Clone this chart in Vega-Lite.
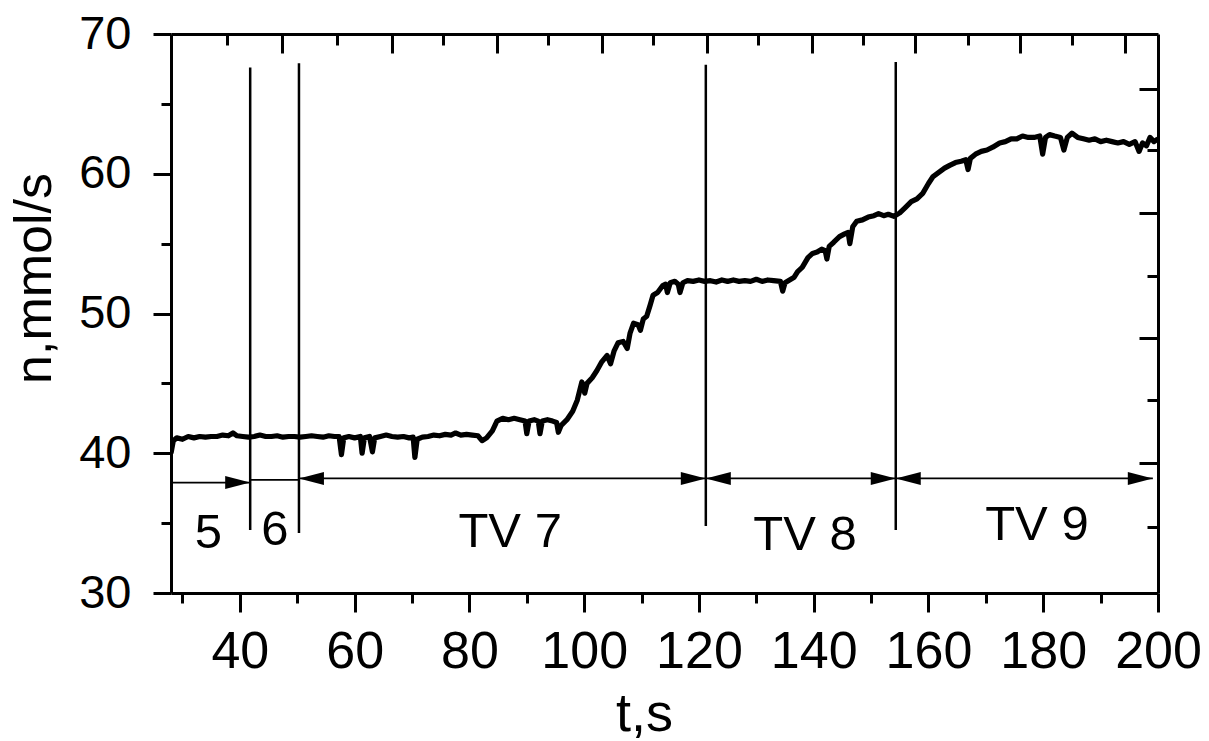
{
  "$schema": "https://vega.github.io/schema/vega-lite/v6.json",
  "width": 987,
  "height": 559,
  "autosize": {"type": "none"},
  "padding": {"left": 171, "top": 34, "right": 51, "bottom": 148},
  "background": "white",
  "config": {
    "view": {"stroke": null},
    "font": "Liberation Sans",
    "axis": {"grid": false, "domainColor": "black", "tickColor": "black", "labelColor": "black", "titleColor": "black", "domainWidth": 3, "tickWidth": 3, "titleFontWeight": "normal", "labelFont": "Liberation Sans", "titleFont": "Liberation Sans"}
  },
  "datasets": {
    "series": [
      {"t": 28.0, "n": 40.0}, {"t": 28.4, "n": 40.9}, {"t": 29.0, "n": 41.1}, {"t": 30.0, "n": 41.0},
      {"t": 31.0, "n": 41.2}, {"t": 32.0, "n": 41.1}, {"t": 33.0, "n": 41.2}, {"t": 34.0, "n": 41.15},
      {"t": 35.0, "n": 41.2}, {"t": 36.0, "n": 41.2}, {"t": 37.0, "n": 41.3}, {"t": 38.0, "n": 41.25},
      {"t": 38.8, "n": 41.45}, {"t": 39.5, "n": 41.25}, {"t": 40.5, "n": 41.2}, {"t": 41.5, "n": 41.15},
      {"t": 42.5, "n": 41.2}, {"t": 43.5, "n": 41.3}, {"t": 44.5, "n": 41.2}, {"t": 45.5, "n": 41.2},
      {"t": 46.5, "n": 41.25}, {"t": 47.5, "n": 41.15}, {"t": 48.5, "n": 41.2}, {"t": 49.5, "n": 41.2},
      {"t": 50.5, "n": 41.15}, {"t": 51.5, "n": 41.2}, {"t": 52.5, "n": 41.25}, {"t": 53.5, "n": 41.2},
      {"t": 54.5, "n": 41.15}, {"t": 55.5, "n": 41.25}, {"t": 56.5, "n": 41.2}, {"t": 57.3, "n": 41.2},
      {"t": 57.7, "n": 39.9}, {"t": 58.1, "n": 41.1}, {"t": 59.0, "n": 41.2}, {"t": 60.0, "n": 41.1},
      {"t": 61.0, "n": 41.2}, {"t": 61.3, "n": 40.0}, {"t": 61.7, "n": 41.1}, {"t": 62.6, "n": 41.2},
      {"t": 63.1, "n": 40.1}, {"t": 63.5, "n": 41.1}, {"t": 64.5, "n": 41.2}, {"t": 65.5, "n": 41.3},
      {"t": 66.5, "n": 41.2}, {"t": 67.5, "n": 41.15}, {"t": 68.5, "n": 41.2}, {"t": 69.5, "n": 41.1},
      {"t": 70.2, "n": 41.15}, {"t": 70.5, "n": 39.7}, {"t": 70.9, "n": 41.0}, {"t": 71.8, "n": 41.15},
      {"t": 72.8, "n": 41.2}, {"t": 73.8, "n": 41.3}, {"t": 74.8, "n": 41.25}, {"t": 75.8, "n": 41.35},
      {"t": 76.8, "n": 41.3}, {"t": 77.6, "n": 41.45}, {"t": 78.5, "n": 41.3}, {"t": 79.5, "n": 41.35},
      {"t": 80.5, "n": 41.3}, {"t": 81.5, "n": 41.25}, {"t": 82.2, "n": 40.9}, {"t": 83.0, "n": 41.1},
      {"t": 84.0, "n": 41.6}, {"t": 84.8, "n": 42.3}, {"t": 85.8, "n": 42.5}, {"t": 86.8, "n": 42.4},
      {"t": 87.8, "n": 42.5}, {"t": 88.8, "n": 42.4}, {"t": 89.7, "n": 42.3}, {"t": 90.0, "n": 41.4},
      {"t": 90.4, "n": 42.3}, {"t": 91.3, "n": 42.4}, {"t": 92.0, "n": 42.3}, {"t": 92.3, "n": 41.4},
      {"t": 92.7, "n": 42.3}, {"t": 93.6, "n": 42.4}, {"t": 94.5, "n": 42.3}, {"t": 95.2, "n": 42.2},
      {"t": 95.5, "n": 41.5}, {"t": 96.0, "n": 42.0}, {"t": 97.0, "n": 42.4}, {"t": 98.0, "n": 43.0},
      {"t": 98.8, "n": 43.8}, {"t": 99.6, "n": 45.1}, {"t": 100.1, "n": 44.3}, {"t": 100.5, "n": 45.0},
      {"t": 101.4, "n": 45.4}, {"t": 102.2, "n": 45.9}, {"t": 103.0, "n": 46.5}, {"t": 104.0, "n": 47.0},
      {"t": 104.6, "n": 46.4}, {"t": 105.2, "n": 47.3}, {"t": 105.9, "n": 47.9}, {"t": 106.8, "n": 48.0},
      {"t": 107.5, "n": 47.5}, {"t": 108.0, "n": 48.6}, {"t": 108.6, "n": 49.3}, {"t": 109.4, "n": 49.2},
      {"t": 109.8, "n": 48.8}, {"t": 110.3, "n": 49.6}, {"t": 110.9, "n": 49.8}, {"t": 111.5, "n": 50.6},
      {"t": 112.0, "n": 51.3}, {"t": 112.8, "n": 51.5}, {"t": 113.7, "n": 52.0}, {"t": 114.2, "n": 52.1},
      {"t": 114.5, "n": 51.5}, {"t": 115.0, "n": 52.2}, {"t": 115.8, "n": 52.3}, {"t": 116.4, "n": 52.1},
      {"t": 116.7, "n": 51.5}, {"t": 117.2, "n": 52.2}, {"t": 118.0, "n": 52.35}, {"t": 119.0, "n": 52.3},
      {"t": 120.0, "n": 52.4}, {"t": 121.0, "n": 52.3}, {"t": 122.0, "n": 52.35}, {"t": 123.0, "n": 52.25},
      {"t": 124.0, "n": 52.4}, {"t": 125.0, "n": 52.3}, {"t": 126.0, "n": 52.4}, {"t": 127.0, "n": 52.3},
      {"t": 128.0, "n": 52.35}, {"t": 129.0, "n": 52.3}, {"t": 130.0, "n": 52.45}, {"t": 131.0, "n": 52.3},
      {"t": 132.0, "n": 52.4}, {"t": 133.0, "n": 52.35}, {"t": 134.2, "n": 52.3}, {"t": 134.6, "n": 51.6},
      {"t": 135.0, "n": 52.2}, {"t": 135.8, "n": 52.4}, {"t": 136.6, "n": 52.6}, {"t": 137.2, "n": 53.0},
      {"t": 138.0, "n": 53.3}, {"t": 139.0, "n": 54.0}, {"t": 139.8, "n": 54.3}, {"t": 140.6, "n": 54.4},
      {"t": 141.4, "n": 54.6}, {"t": 142.0, "n": 54.5}, {"t": 142.3, "n": 53.9}, {"t": 142.7, "n": 54.8},
      {"t": 143.5, "n": 55.1}, {"t": 144.5, "n": 55.5}, {"t": 145.4, "n": 55.7}, {"t": 146.0, "n": 55.8},
      {"t": 146.3, "n": 55.0}, {"t": 146.8, "n": 56.2}, {"t": 147.5, "n": 56.6}, {"t": 148.5, "n": 56.7},
      {"t": 149.5, "n": 56.9}, {"t": 150.5, "n": 57.0}, {"t": 151.3, "n": 57.15}, {"t": 152.2, "n": 57.0},
      {"t": 153.0, "n": 57.1}, {"t": 154.0, "n": 56.95}, {"t": 155.0, "n": 57.2}, {"t": 156.0, "n": 57.6},
      {"t": 157.0, "n": 58.0}, {"t": 158.0, "n": 58.2}, {"t": 159.0, "n": 58.6}, {"t": 160.0, "n": 59.3},
      {"t": 160.8, "n": 59.8}, {"t": 161.8, "n": 60.1}, {"t": 162.8, "n": 60.4}, {"t": 163.7, "n": 60.6},
      {"t": 164.7, "n": 60.8}, {"t": 165.7, "n": 60.9}, {"t": 166.5, "n": 61.0}, {"t": 166.9, "n": 60.3},
      {"t": 167.3, "n": 61.1}, {"t": 168.2, "n": 61.4}, {"t": 169.2, "n": 61.6}, {"t": 170.2, "n": 61.7},
      {"t": 171.2, "n": 61.9}, {"t": 172.4, "n": 62.2}, {"t": 173.4, "n": 62.3}, {"t": 174.4, "n": 62.5},
      {"t": 175.4, "n": 62.5}, {"t": 176.4, "n": 62.7}, {"t": 177.4, "n": 62.6}, {"t": 178.4, "n": 62.6},
      {"t": 179.4, "n": 62.7}, {"t": 179.9, "n": 61.4}, {"t": 180.4, "n": 62.6}, {"t": 181.1, "n": 62.8},
      {"t": 182.0, "n": 62.7}, {"t": 183.0, "n": 62.6}, {"t": 183.6, "n": 61.7}, {"t": 184.2, "n": 62.6},
      {"t": 185.0, "n": 62.9}, {"t": 186.0, "n": 62.6}, {"t": 187.0, "n": 62.5}, {"t": 188.0, "n": 62.4},
      {"t": 189.0, "n": 62.5}, {"t": 190.0, "n": 62.3}, {"t": 191.0, "n": 62.4}, {"t": 192.0, "n": 62.3},
      {"t": 193.0, "n": 62.2}, {"t": 194.0, "n": 62.3}, {"t": 195.0, "n": 62.1}, {"t": 196.0, "n": 62.3},
      {"t": 196.7, "n": 61.6}, {"t": 197.3, "n": 62.2}, {"t": 198.0, "n": 62.0}, {"t": 198.6, "n": 62.6},
      {"t": 199.3, "n": 62.3}, {"t": 200.0, "n": 62.5}
    ],
    "vlines": [
      {"t": 41.8, "lo": 34.5, "hi": 67.6},
      {"t": 50.3, "lo": 34.3, "hi": 67.9},
      {"t": 121.2, "lo": 34.8, "hi": 67.8},
      {"t": 154.3, "lo": 34.5, "hi": 68.0}
    ],
    "segments": [
      {"x1": 28, "x2": 41.8, "y": 37.9},
      {"x1": 41.8, "x2": 50.3, "y": 38.1},
      {"x1": 50.3, "x2": 121.2, "y": 38.2},
      {"x1": 121.2, "x2": 154.3, "y": 38.2},
      {"x1": 154.3, "x2": 199.1, "y": 38.2}
    ],
    "arrows": [
      {"t": 41.8, "y": 37.9, "dir": "right"},
      {"t": 121.2, "y": 38.2, "dir": "right"},
      {"t": 154.3, "y": 38.2, "dir": "right"},
      {"t": 199.1, "y": 38.2, "dir": "right"},
      {"t": 50.3, "y": 38.2, "dir": "left"},
      {"t": 121.2, "y": 38.2, "dir": "left"},
      {"t": 154.3, "y": 38.2, "dir": "left"}
    ],
    "labels": [
      {"t": 34.5, "y": 33.2, "text": "5"},
      {"t": 46.1, "y": 33.4, "text": "6"},
      {"t": 87.1, "y": 33.3, "text": "TV 7"},
      {"t": 138.5, "y": 33.1, "text": "TV 8"},
      {"t": 178.9, "y": 33.8, "text": "TV 9"}
    ]
  },
  "layer": [
    {
      "data": {"name": "series"},
      "mark": {"type": "line", "color": "black", "strokeWidth": 5.2, "strokeJoin": "round", "clip": true},
      "encoding": {
        "x": {
          "field": "t", "type": "quantitative",
          "scale": {"domain": [28, 200], "nice": false, "zero": false},
          "axis": {
            "orient": "bottom",
            "values": [30, 40, 50, 60, 70, 80, 90, 100, 110, 120, 130, 140, 150, 160, 170, 180, 190, 200],
            "tickSize": {"condition": {"test": "datum.value % 20 === 0", "value": 19}, "value": 10},
            "labelExpr": "datum.value % 20 === 0 ? datum.label : ''",
            "labelFontSize": 52, "labelPadding": 14, "labelFlush": false, "labelOverlap": false,
            "title": "t,s", "titleFontSize": 54, "titleX": 473, "titleY": 137,
            "titleBaseline": "alphabetic", "titleAlign": "center", "titleAnchor": null
          }
        },
        "y": {
          "field": "n", "type": "quantitative",
          "scale": {"domain": [30, 70], "nice": false, "zero": false},
          "axis": {
            "orient": "left",
            "values": [30, 35, 40, 45, 50, 55, 60, 65, 70],
            "tickSize": {"condition": {"test": "datum.value % 10 === 0", "value": 18}, "value": 10},
            "labelExpr": "datum.value % 10 === 0 ? datum.label : ''",
            "labelFontSize": 47, "labelPadding": 22, "labelFlush": false, "labelOverlap": false,
            "title": "n,mmol/s", "titleFontSize": 52, "titleX": -121, "titleY": 244,
            "titleBaseline": "alphabetic", "titleAlign": "center", "titleAngle": -90
          }
        }
      }
    },
    {
      "data": {"name": "vlines"},
      "mark": {"type": "rule", "color": "black", "strokeWidth": 2.5},
      "encoding": {
        "x": {
          "field": "t", "type": "quantitative",
          "axis": {
            "orient": "top", "title": null, "labels": false,
            "values": [47.3, 66.5, 84.8, 103.1, 121.4, 139.7, 157.6, 175.9, 194.2],
            "tickSize": -19
          }
        },
        "y": {
          "field": "lo", "type": "quantitative",
          "axis": {
            "orient": "right", "title": null, "labels": false,
            "values": [39.3, 48.25, 57.2, 66.1],
            "tickSize": -19
          }
        },
        "y2": {"field": "hi"}
      }
    },
    {
      "data": {"name": "segments"},
      "mark": {"type": "rule", "color": "black", "strokeWidth": 1.8},
      "encoding": {
        "x": {
          "field": "x1", "type": "quantitative",
          "axis": {
            "orient": "top", "title": null, "labels": false, "domain": false,
            "values": [37.8, 56.9, 75.4, 93.7, 112.0, 130.3, 148.6, 166.9, 185.1],
            "tickSize": -11
          }
        },
        "x2": {"field": "x2"},
        "y": {
          "field": "y", "type": "quantitative",
          "axis": {
            "orient": "right", "title": null, "labels": false, "domain": false,
            "values": [34.7, 43.8, 52.7, 61.7],
            "tickSize": -11
          }
        }
      }
    },
    {
      "data": {"name": "arrows"},
      "transform": [{"filter": "datum.dir === 'right'"}],
      "mark": {"type": "point", "filled": true, "color": "black", "opacity": 1, "size": 2500, "shape": "M -1 -0.26 L 0 0 L -1 0.26 Z"},
      "encoding": {
        "x": {"field": "t", "type": "quantitative", "axis": null},
        "y": {"field": "y", "type": "quantitative", "axis": null}
      }
    },
    {
      "data": {"name": "arrows"},
      "transform": [{"filter": "datum.dir === 'left'"}],
      "mark": {"type": "point", "filled": true, "color": "black", "opacity": 1, "size": 2500, "shape": "M 1 -0.26 L 0 0 L 1 0.26 Z"},
      "encoding": {
        "x": {"field": "t", "type": "quantitative", "axis": null},
        "y": {"field": "y", "type": "quantitative", "axis": null}
      }
    },
    {
      "data": {"name": "labels"},
      "mark": {"type": "text", "fontSize": 49, "font": "Liberation Sans", "align": "center", "baseline": "alphabetic", "color": "black"},
      "encoding": {
        "x": {"field": "t", "type": "quantitative", "axis": null},
        "y": {"field": "y", "type": "quantitative", "axis": null},
        "text": {"field": "text"}
      }
    }
  ],
  "resolve": {"axis": {"x": "independent", "y": "independent"}}
}
